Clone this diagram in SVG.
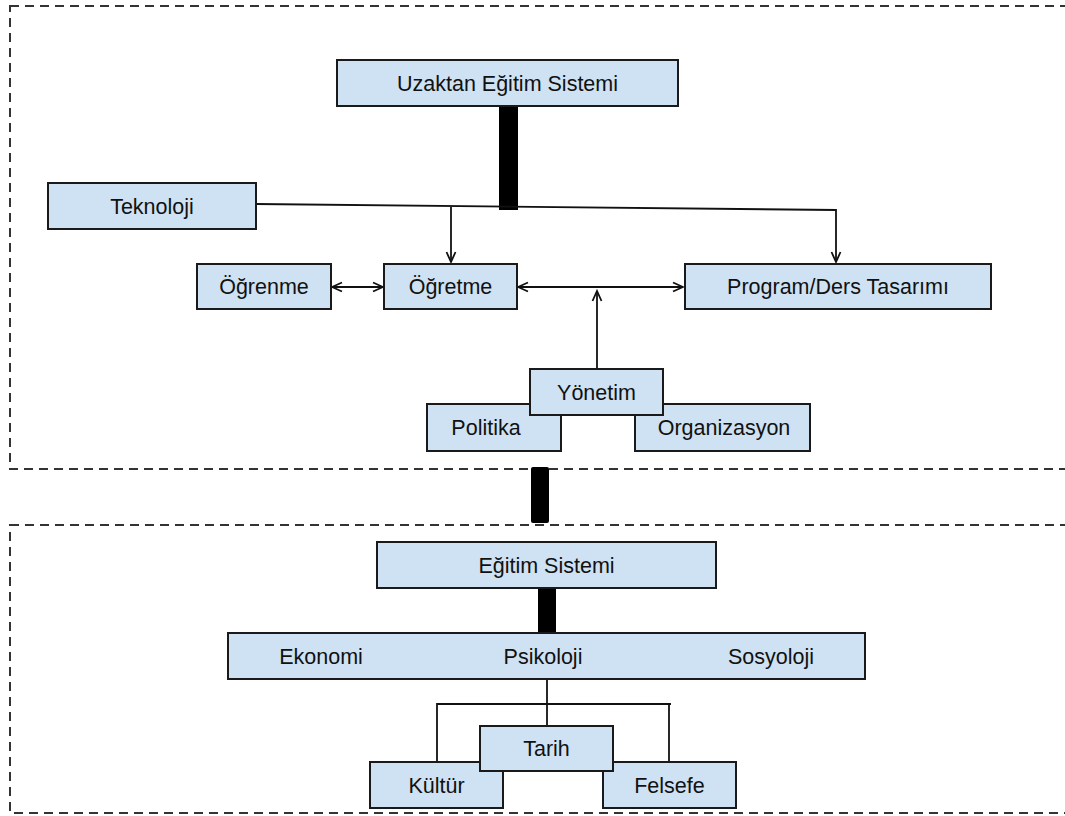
<svg xmlns="http://www.w3.org/2000/svg" width="1065" height="816" viewBox="0 0 1065 816">
<style>
.frame{fill:none;stroke:#333;stroke-width:2;stroke-dasharray:9,6}
.box{fill:#cfe2f3;stroke:#1a1a1a;stroke-width:2}
.lbl{font-family:"Liberation Sans",Arial,sans-serif;font-size:21.5px;fill:#111;text-anchor:middle}
.ln{fill:none;stroke:#111;stroke-width:1.8}
.bar{fill:#000}
</style>
<defs>
<marker id="ah" viewBox="-12 -6 14 12" refX="0" refY="0" markerWidth="14" markerHeight="12" markerUnits="userSpaceOnUse" orient="auto-start-reverse">
<path d="M-10,-4.5 L0,0 L-10,4.5" fill="none" stroke="#111" stroke-width="1.8"/>
</marker>
</defs>
<rect class="frame" x="10" y="6" width="1070" height="463"/>
<rect class="frame" x="10" y="525" width="1070" height="288"/>
<g id="connectors">
<rect class="bar" x="499" y="105" width="19" height="105"/>
<rect class="bar" x="531" y="467" width="18" height="56" rx="2"/>
<rect class="bar" x="538" y="587" width="18" height="47"/>
<path class="ln" d="M256,204 L836,210 L836,262" marker-end="url(#ah)"/>
<path class="ln" d="M451,207 L451,262" marker-end="url(#ah)"/>
<path class="ln" d="M332,287 L383,287" marker-start="url(#ah)" marker-end="url(#ah)"/>
<path class="ln" d="M518,287 L683,287" marker-start="url(#ah)" marker-end="url(#ah)"/>
<path class="ln" d="M597,369 L597,291" marker-end="url(#ah)"/>
<path class="ln" d="M547,679 L547,726"/>
<path class="ln" d="M437,762 L437,704 L671,704"/>
<path class="ln" d="M669,704 L669,762"/>
</g>
<g id="uzaktan"><rect class="box" x="337" y="60" width="341" height="46"/><text class="lbl" x="507.5" y="91">Uzaktan Eğitim Sistemi</text></g>
<g id="teknoloji"><rect class="box" x="48" y="183" width="208" height="46"/><text class="lbl" x="152" y="214">Teknoloji</text></g>
<g id="ogrenme"><rect class="box" x="197" y="264" width="134" height="45"/><text class="lbl" x="264" y="294">Öğrenme</text></g>
<g id="ogretme"><rect class="box" x="384" y="264" width="133" height="45"/><text class="lbl" x="450.5" y="294">Öğretme</text></g>
<g id="program"><rect class="box" x="685" y="264" width="306" height="45"/><text class="lbl" x="838" y="294">Program/Ders Tasarımı</text></g>
<g id="politika"><rect class="box" x="427" y="404" width="134" height="47"/><text class="lbl" x="486" y="435">Politika</text></g>
<g id="organizasyon"><rect class="box" x="635" y="404" width="175" height="47"/><text class="lbl" x="724" y="435">Organizasyon</text></g>
<g id="yonetim"><rect class="box" x="530" y="369" width="133" height="46"/><text class="lbl" x="596.5" y="400">Yönetim</text></g>
<g id="egitim"><rect class="box" x="377" y="542" width="339" height="46"/><text class="lbl" x="546.5" y="573">Eğitim Sistemi</text></g>
<g id="alanlar"><rect class="box" x="228" y="633" width="637" height="46"/>
<text class="lbl" x="321" y="664">Ekonomi</text><text class="lbl" x="543" y="664">Psikoloji</text><text class="lbl" x="771" y="664">Sosyoloji</text></g>
<g id="kultur"><rect class="box" x="370" y="762" width="133" height="46"/><text class="lbl" x="436.5" y="793">Kültür</text></g>
<g id="felsefe"><rect class="box" x="603" y="762" width="133" height="46"/><text class="lbl" x="669.5" y="793">Felsefe</text></g>
<g id="tarih"><rect class="box" x="480" y="726" width="133" height="45"/><text class="lbl" x="546.5" y="756">Tarih</text></g>
</svg>
